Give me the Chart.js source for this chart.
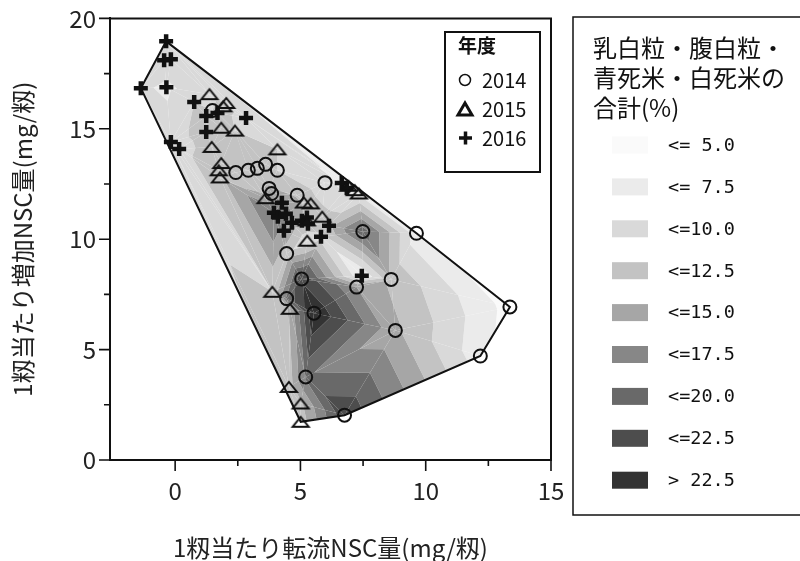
<!DOCTYPE html>
<html>
<head>
<meta charset="utf-8">
<script src="https://cdn.jsdelivr.net/npm/chart.js@4/dist/chart.umd.min.js"></script>
<style>
  html, body { margin: 0; padding: 0; background: #fff; }
  #wrap { width: 800px; height: 561px; position: relative; }
</style>
</head>
<body>
<div id="wrap"><canvas id="c" width="800" height="561"></canvas></div>
<script>
// 1籾当たり転流NSC量 (x), 1籾当たり増加NSC量 (y), and the quality ratio (%) at each sample
const x2014 = [1.49, 2.42, 2.92, 3.28, 3.61, 4.08, 3.75, 3.85, 4.87, 5.98, 7.49, 9.63, 4.45, 5.05, 7.24, 8.62, 4.45, 5.54, 8.79, 13.36, 12.18, 5.21, 6.76];
const y2014 = [15.83, 13.02, 13.12, 13.21, 13.39, 13.12, 12.30, 12.07, 11.99, 12.56, 10.35, 10.27, 9.35, 8.20, 7.83, 8.18, 7.31, 6.65, 5.87, 6.93, 4.71, 3.76, 2.03];
const q2014 = [10, 11, 10, 10, 11, 10, 13, 14, 12, 8, 19, 6, 11, 22, 15, 12, 18, 25, 13, 4, 6, 18, 22];

const x2015 = [1.37, 2.04, 1.92, 1.84, 2.39, 1.46, 4.08, 1.84, 1.74, 1.79, 3.61, 5.14, 5.41, 6.91, 7.17, 7.33, 5.87, 5.25, 5.27, 3.88, 4.58, 4.54, 5.01, 5.01];
const y2015 = [16.57, 16.17, 16.02, 15.05, 14.92, 14.18, 14.07, 13.45, 13.12, 12.80, 11.86, 11.66, 11.62, 12.42, 12.22, 12.07, 11.02, 10.85, 9.93, 7.62, 6.85, 3.31, 2.56, 1.73];
const q2015 = [9, 10, 11, 10, 10, 11, 10, 12, 12, 12, 13, 12, 11, 7, 7, 7, 11, 12, 8, 10, 13, 11, 12, 11];

const x2016 = [-0.36, -0.44, -0.17, -1.37, -0.35, 0.76, 1.24, 1.69, 2.83, 1.24, -0.17, 0.16, 6.65, 6.85, 4.26, 3.94, 4.10, 4.42, 4.66, 5.06, 5.26, 5.30, 4.34, 6.14, 5.82, 7.45];
const y2016 = [18.96, 18.10, 18.15, 16.84, 16.88, 16.21, 15.58, 15.71, 15.49, 14.85, 14.40, 14.09, 12.55, 12.32, 11.65, 11.20, 11.02, 11.15, 10.75, 10.84, 10.98, 10.70, 10.38, 10.61, 10.11, 8.35];
const q2016 = [8, 9, 9, 8, 7, 10, 11, 11, 9, 11, 9, 9, 7, 7, 16, 18, 18, 16, 14, 13, 12, 12, 15, 12, 9, 5];

const yearLabels = ['2014', '2015', '2016'];
const levelBounds = [5, 7.5, 10, 12.5, 15, 17.5, 20, 22.5];
const levelLabels = ['<= 5.0', '<= 7.5', '<=10.0', '<=12.5', '<=15.0', '<=17.5', '<=20.0', '<=22.5', '> 22.5'];
const levelColors = ['#fafafa', '#ebebeb', '#d9d9d9', '#c3c3c3', '#a6a6a6', '#878787', '#696969', '#4d4d4d', '#333333'];
const legendTitle = ['乳白粒・腹白粒・', '青死米・白死米の', '合計(%)'];
const legendYearTitle = '年度';
const xTitle = '1籾当たり転流NSC量(mg/籾)';
const yTitle = '1籾当たり増加NSC量(mg/籾)';
const xTickValues = [0, 5, 10, 15];
const yTickValues = [0, 5, 10, 15, 20];

const CJK = '"Noto Sans CJK JP", "Noto Sans", sans-serif';
const MONO = '"DejaVu Sans Mono", "Liberation Mono", monospace';
const INK = '#111';

function toPoints(xs, ys, qs) {
  return xs.map((v, i) => ({ x: v, y: ys[i], q: qs[i] }));
}
const pts2014 = toPoints(x2014, y2014, q2014);
const pts2015 = toPoints(x2015, y2015, q2015);
const pts2016 = toPoints(x2016, y2016, q2016);
const allPts = pts2014.concat(pts2015, pts2016);

// Delaunay triangulation (Bowyer–Watson) in data units
function triangulate(P) {
  let minX = Infinity, minY = Infinity, maxX = -Infinity, maxY = -Infinity;
  P.forEach(p => { minX = Math.min(minX, p.x); maxX = Math.max(maxX, p.x); minY = Math.min(minY, p.y); maxY = Math.max(maxY, p.y); });
  const d = Math.max(maxX - minX, maxY - minY) * 1000;
  const cx = (minX + maxX) / 2, cy = (minY + maxY) / 2;
  const V = P.map(p => ({ x: p.x, y: p.y }));
  const n = P.length;
  V.push({ x: cx - d, y: cy - d }, { x: cx + d, y: cy - d }, { x: cx, y: cy + d });
  function mk(a, b, c) {
    const A = V[a], B = V[b], C = V[c];
    const D = 2 * (A.x * (B.y - C.y) + B.x * (C.y - A.y) + C.x * (A.y - B.y));
    const a2 = A.x * A.x + A.y * A.y, b2 = B.x * B.x + B.y * B.y, c2 = C.x * C.x + C.y * C.y;
    const ux = (a2 * (B.y - C.y) + b2 * (C.y - A.y) + c2 * (A.y - B.y)) / D;
    const uy = (a2 * (C.x - B.x) + b2 * (A.x - C.x) + c2 * (B.x - A.x)) / D;
    return { a, b, c, cx: ux, cy: uy, r2: (A.x - ux) ** 2 + (A.y - uy) ** 2 };
  }
  let T = [mk(n, n + 1, n + 2)];
  for (let i = 0; i < n; i++) {
    const p = V[i];
    const edges = [], keep = [];
    for (const t of T) {
      const dx = p.x - t.cx, dy = p.y - t.cy;
      if (dx * dx + dy * dy < t.r2) edges.push([t.a, t.b], [t.b, t.c], [t.c, t.a]);
      else keep.push(t);
    }
    const uniq = edges.filter((e, j) => !edges.some((f, k) => k !== j &&
      ((e[0] === f[0] && e[1] === f[1]) || (e[0] === f[1] && e[1] === f[0]))));
    T = keep;
    uniq.forEach(e => T.push(mk(e[0], e[1], i)));
  }
  return T.filter(t => t.a < n && t.b < n && t.c < n).map(t => [P[t.a], P[t.b], P[t.c]]);
}

// convex hull (monotone chain)
function hull(P) {
  const s = P.slice().sort((a, b) => a.x - b.x || a.y - b.y);
  const cross = (o, a, b) => (a.x - o.x) * (b.y - o.y) - (a.y - o.y) * (b.x - o.x);
  const lo = [], up = [];
  for (const p of s) { while (lo.length >= 2 && cross(lo[lo.length - 2], lo[lo.length - 1], p) <= 0) lo.pop(); lo.push(p); }
  for (let i = s.length - 1; i >= 0; i--) { const p = s[i]; while (up.length >= 2 && cross(up[up.length - 2], up[up.length - 1], p) <= 0) up.pop(); up.push(p); }
  up.pop(); lo.pop();
  const h = lo.concat(up);
  return h.concat([h[0]]).map(p => ({ x: p.x, y: p.y }));
}

const triangles = triangulate(allPts);
const hullPts = hull(allPts);

function clipHalf(poly, f) {
  const res = [];
  for (let i = 0; i < poly.length; i++) {
    const a = poly[i], b = poly[(i + 1) % poly.length];
    const fa = f(a), fb = f(b);
    if (fa >= 0) res.push(a);
    if ((fa >= 0) !== (fb >= 0)) {
      const t = fa / (fa - fb);
      res.push({ x: a.x + (b.x - a.x) * t, y: a.y + (b.y - a.y) * t, q: a.q + (b.q - a.q) * t });
    }
  }
  return res;
}

// filled contour bands from linear interpolation on the triangles
const contourPlugin = {
  id: 'contourBands',
  beforeDatasetsDraw(chart) {
    const { ctx, chartArea: a, scales: { x, y } } = chart;
    ctx.save();
    ctx.beginPath(); ctx.rect(a.left, a.top, a.right - a.left, a.bottom - a.top); ctx.clip();
    const bands = levelColors.map((c, k) => [k === 0 ? -1e9 : levelBounds[k - 1], k === levelBounds.length ? 1e9 : levelBounds[k]]);
    triangles.forEach(tri => {
      bands.forEach((b, k) => {
        let poly = clipHalf(tri, v => v.q - b[0]);
        if (poly.length < 3) return;
        poly = clipHalf(poly, v => b[1] - v.q);
        if (poly.length < 3) return;
        ctx.beginPath();
        poly.forEach((v, i) => {
          const px = x.getPixelForValue(v.x), py = y.getPixelForValue(v.y);
          if (i === 0) ctx.moveTo(px, py); else ctx.lineTo(px, py);
        });
        ctx.closePath();
        ctx.fillStyle = levelColors[k];
        ctx.fill();
      });
    });
    ctx.restore();
  }
};

function triMarker(w, h, lw) {
  const c = document.createElement('canvas');
  c.width = Math.ceil(w + lw * 2 + 2); c.height = Math.ceil(h + lw * 2 + 2);
  const g = c.getContext('2d');
  g.lineWidth = lw; g.strokeStyle = INK; g.lineJoin = 'miter';
  const ox = c.width / 2, oy = c.height / 2;
  g.beginPath(); g.moveTo(ox, oy - h / 2); g.lineTo(ox + w / 2, oy + h / 2); g.lineTo(ox - w / 2, oy + h / 2); g.closePath(); g.stroke();
  return c;
}
const triStyle = triMarker(16, 10, 2);

// frame, tick marks and the two legend panels
const decorPlugin = {
  id: 'decor',
  afterDraw(chart) {
    const { ctx, chartArea: a, scales: { x, y } } = chart;
    ctx.save();
    ctx.strokeStyle = INK; ctx.lineWidth = 2;
    ctx.beginPath();
    ctx.moveTo(a.left, a.top); ctx.lineTo(a.right, a.top); ctx.lineTo(a.right, a.bottom);
    ctx.stroke();
    const minor = v => Math.abs(v / 2.5 - Math.round(v / 2.5)) < 1e-9;
    ctx.lineWidth = 1.6;
    ctx.beginPath();
    x.ticks.map(t => t.value).filter(v => v >= 0 && minor(v)).forEach(v => {
      const px = x.getPixelForValue(v), len = xTickValues.includes(v) ? 11 : 6;
      ctx.moveTo(px, a.bottom); ctx.lineTo(px, a.bottom + len);
    });
    y.ticks.map(t => t.value).filter(v => minor(v)).forEach(v => {
      const py = y.getPixelForValue(v), len = yTickValues.includes(v) ? 11 : 6;
      ctx.moveTo(a.left, py); ctx.lineTo(a.left - len, py);
    });
    ctx.stroke();

    // year legend inside the plot
    ctx.fillStyle = '#fff'; ctx.lineWidth = 2;
    ctx.fillRect(445, 32, 95, 140); ctx.strokeRect(445, 32, 95, 140);
    ctx.fillStyle = INK; ctx.textBaseline = 'middle'; ctx.textAlign = 'left';
    ctx.font = 'bold 19px ' + CJK;
    ctx.fillText(legendYearTitle, 458, 46);
    ctx.font = '20px ' + CJK;
    const rows = [80, 109, 138];
    yearLabels.forEach((lab, i) => ctx.fillText(lab, 482, rows[i]));
    ctx.lineWidth = 1.5;
    ctx.beginPath(); ctx.arc(465, rows[0], 5.5, 0, Math.PI * 2); ctx.stroke();
    ctx.lineWidth = 3; ctx.lineJoin = 'miter';
    ctx.beginPath(); ctx.moveTo(465, rows[1] - 6); ctx.lineTo(472, rows[1] + 6); ctx.lineTo(458, rows[1] + 6); ctx.closePath(); ctx.stroke();
    ctx.lineWidth = 3.5;
    ctx.beginPath(); ctx.moveTo(459, rows[2]); ctx.lineTo(472, rows[2]); ctx.moveTo(465.5, rows[2] - 6.5); ctx.lineTo(465.5, rows[2] + 6.5); ctx.stroke();

    // quality-level legend panel
    ctx.fillStyle = '#fff'; ctx.lineWidth = 1.5;
    ctx.fillRect(573, 17, 240, 498); ctx.strokeRect(573, 17, 240, 498);
    ctx.fillStyle = INK;
    ctx.font = '24px ' + CJK;
    legendTitle.forEach((t, i) => ctx.fillText(t, 593, 48 + i * 30));
    ctx.font = '18.5px ' + MONO;
    levelLabels.forEach((lab, i) => {
      const cy = 145 + i * 41.9;
      ctx.fillStyle = levelColors[i];
      ctx.fillRect(612, cy - 8.5, 36, 17);
      ctx.fillStyle = INK;
      ctx.fillText(lab, 668, cy + 1);
    });
    ctx.restore();
  }
};

new Chart(document.getElementById('c'), {
  type: 'scatter',
  data: {
    datasets: [
      { label: yearLabels[0], data: pts2014, pointStyle: 'circle', pointRadius: 6.5, borderWidth: 2, borderColor: INK, backgroundColor: 'rgba(0,0,0,0)', order: 1 },
      { label: yearLabels[1], data: pts2015, pointStyle: triStyle, pointRadius: 7, borderColor: INK, backgroundColor: 'rgba(0,0,0,0)', order: 1 },
      { label: yearLabels[2], data: pts2016, pointStyle: 'cross', pointRadius: 7, borderWidth: 4.5, borderColor: INK, order: 1 },
      { type: 'line', label: 'hull', data: hullPts, showLine: true, pointRadius: 0, borderColor: INK, borderWidth: 2, fill: false, tension: 0, order: 5 }
    ]
  },
  options: {
    responsive: false,
    animation: false,
    events: [],
    layout: { padding: { top: 17, right: 249, bottom: 0, left: 0 } },
    plugins: { legend: { display: false }, tooltip: { enabled: false } },
    scales: {
      x: {
        type: 'linear', min: -2.6, max: 15,
        grid: { display: false, drawTicks: true, tickLength: 10 },
        border: { display: true, color: INK, width: 2 },
        ticks: { stepSize: 2.5, autoSkip: false, maxRotation: 0, padding: 6, color: '#222',
          font: { family: CJK, size: 24 },
          callback: v => xTickValues.includes(v) ? String(v) : '' },
        title: { display: true, text: xTitle, color: '#222', font: { family: CJK, size: 24, lineHeight: 1.1 }, padding: { top: 0, bottom: 0 } },
        afterFit: s => { s.height = 101; }
      },
      y: {
        type: 'linear', min: 0, max: 20,
        grid: { display: false, drawTicks: true, tickLength: 10 },
        border: { display: true, color: INK, width: 2 },
        ticks: { stepSize: 2.5, autoSkip: false, padding: 4, color: '#222',
          font: { family: CJK, size: 24 },
          callback: v => yTickValues.includes(v) ? String(v) : '' },
        title: { display: true, text: yTitle, color: '#222', font: { family: CJK, size: 24, lineHeight: 1.2 }, padding: { top: 8, bottom: 0 } },
        afterFit: s => { s.width = 110; }
      }
    }
  },
  plugins: [contourPlugin, decorPlugin]
});
</script>
</body>
</html>
